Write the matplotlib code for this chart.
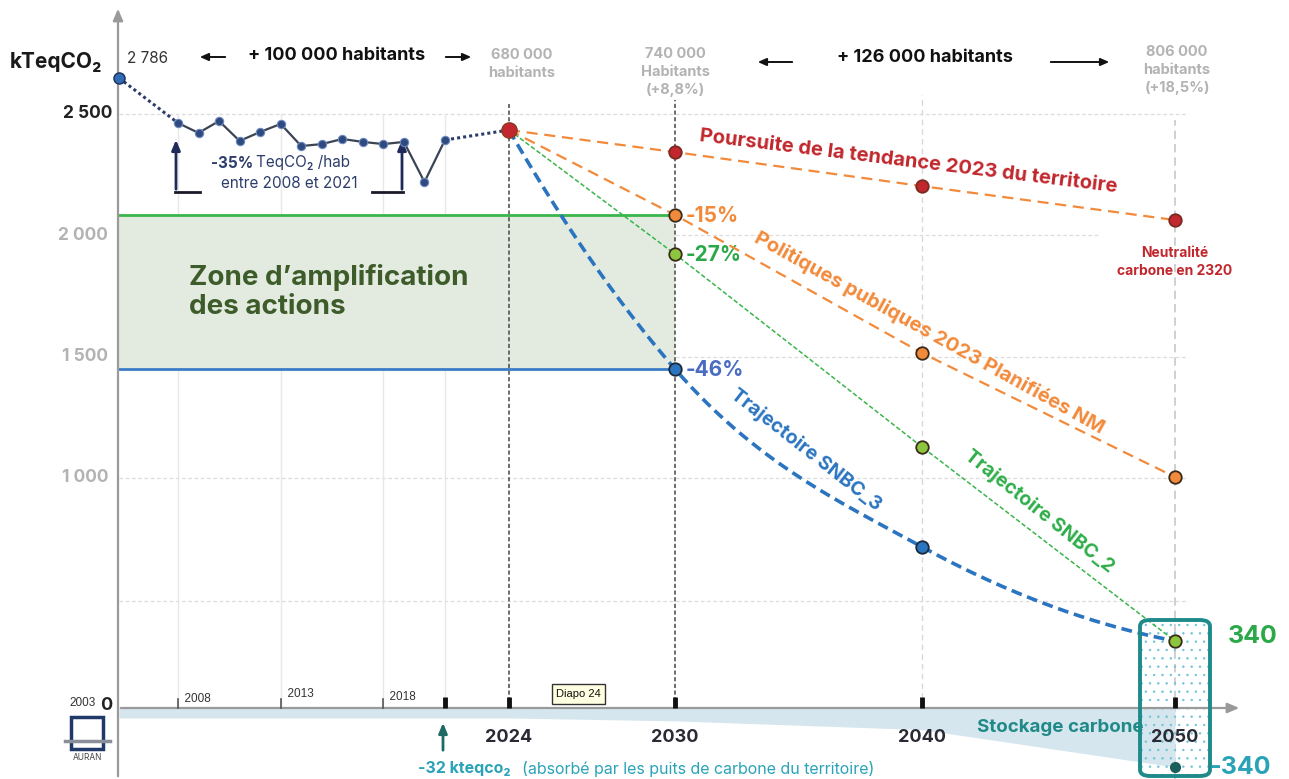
import numpy as np
import matplotlib
matplotlib.use("Agg")
import matplotlib.pyplot as plt
from matplotlib.patches import FancyBboxPatch, Rectangle

# ---------------- data ----------------
hist_years = [2003, 2008, 2009, 2010, 2011, 2012, 2013, 2014, 2015, 2016, 2017, 2018, 2019, 2020, 2021]
hist_values = [2786, 2463, 2422, 2471, 2389, 2426, 2459, 2368, 2376, 2397, 2385, 2376, 2385, 2220, 2393]
base_year = 2024
base_value = 2434

proj_years = [2024, 2030, 2040, 2050]
tendance = [2434, 2343, 2203, 2063]
politiques = [2434, 2084, 1515, 1004]
snbc2 = [2434, 1923, 1128, 340]
snbc3 = [2434, 1449, 721, 340]

sink_years = [2003, 2024, 2030, 2040, 2050]
sink_values = [-32, -32, -50, -105, -340]

pct_labels = ["-15%", "-27%", "-46%"]
y_ticks = [1000, 1500, 2000, 2500]
y_tick_labels = ["1 000", "1 500", "2 000", "2 500"]
hist_tick_years = [2008, 2013, 2018]
proj_tick_years = [2024, 2030, 2040, 2050]
grid_values = [500, 1000, 1500, 2000, 2500]

# ---------------- figure / scales ----------------
W, H = 1289, 779
plt.rcParams["hatch.linewidth"] = 0.5
fig = plt.figure(figsize=(W / 100, H / 100), dpi=100)
ax = fig.add_axes([0, 0, 1, 1])
ax.axis("off")

# piecewise axis layout (year -> pixel, value -> pixel)
XK_Y = np.array([1980, 2003, 2008, 2021, 2024, 2030, 2040, 2050, 2080], float)
XK_P = np.array([119 - 23 * 11.8, 119, 178, 445, 509, 675, 922, 1175, 1175 + 30 * 25.3])
YK_V = np.array([-1500, -340, -32, 0, 340, 1000, 2500, 2786, 5000], float)
YK_P = np.array([951, 767, 718, 708, 641, 478, 114, 78, -201], float)
YK_U = H - YK_P

fx = lambda v: np.interp(v, XK_Y, XK_P)
ix = lambda p: np.interp(p, XK_P, XK_Y)
fy = lambda v: np.interp(v, YK_V, YK_U)
iy = lambda u: np.interp(u, YK_U, YK_V)
ax.set_xscale("function", functions=(fx, ix))
ax.set_yscale("function", functions=(fy, iy))
ax.set_xlim(float(ix(0)), float(ix(W)))
ax.set_ylim(float(iy(0)), float(iy(H)))


def P(x, y):
    return (x / W, 1 - y / H)


def ftext(x, y, s, **kw):
    return fig.text(x / W, 1 - y / H, s, **kw)


FONT = ["Inter", "Lato", "DejaVu Sans"]
RED = "#c1272d"
ORANGE = "#f28a3b"
GREEN = "#39b54a"
LGREEN = "#8cc63f"
BLUE = "#2b74c0"
NAVY = "#2d3d6b"
GRAY = "#b3b3b3"
TEAL = "#1e8a8a"
TEAL2 = "#2aa3b8"

# ---------------- grid ----------------
for gv in grid_values:
    x_end = 2047 if gv == 2000 else 2050.5
    ax.plot([2003, x_end], [gv, gv], color="#dcdcdc", lw=0.9, ls=(0, (3, 2)), zorder=1)
for yr in [2008, 2013, 2018, 2021]:
    ax.plot([yr, yr], [0, 2500], color="#e8e8e8", lw=1, zorder=1)
ax.plot([2040, 2040], [0, float(iy(H - 95))], color="#d8d8d8", lw=1, ls=(0, (4, 3)), zorder=1)
ax.plot([2050, 2050], [float(iy(H - 779)), float(iy(H - 120))], color="#c8c8c8", lw=1.2, ls=(0, (5, 3)), zorder=1)
ax.plot([2024, 2024], [0, float(iy(H - 104))], color="#555555", lw=1.2, ls=(0, (2.5, 1.5)), zorder=2)
ax.plot([2030, 2030], [0, float(iy(H - 100))], color="#555555", lw=1.2, ls=(0, (2.5, 1.5)), zorder=2)

# ---------------- zone d'amplification ----------------
ax.fill_between([2003, 2030], [snbc3[1], snbc3[1]], [politiques[1], politiques[1]],
                color="#e3ebe0", zorder=1.5, lw=0)
ax.plot([2003, 2030], [politiques[1], politiques[1]], color=GREEN, lw=2, zorder=3)
ax.plot([2003, 2030], [snbc3[1], snbc3[1]], color="#3a7cc8", lw=2, zorder=3)
ftext(189, 292, "Zone d\u2019amplification\ndes actions", fontsize=20, fontweight="bold",
      color="#3d5c2a", family=FONT, ha="left", va="center", linespacing=1.18)

# ---------------- carbon sink band ----------------
ax.fill_between(sink_years, [0] * len(sink_years), sink_values, color="#d6e6ee", lw=0, zorder=1)

# ---------------- axes lines ----------------
ax.annotate("", xy=P(118, 6), xytext=P(118, 779), xycoords="figure fraction",
            arrowprops=dict(arrowstyle="-|>,head_length=0.7,head_width=0.3", color="#9a9a9a", lw=1.6))
ax.annotate("", xy=P(1242, 708), xytext=P(118, 708), xycoords="figure fraction",
            arrowprops=dict(arrowstyle="-|>,head_length=0.7,head_width=0.3", color="#9a9a9a", lw=1.6))

for yr in hist_tick_years:
    ax.plot([yr, yr], [0, float(iy(H - 699))], color="#555555", lw=1.2, zorder=4)
for yr in [2021] + proj_tick_years:
    ax.plot([yr, yr], [0, float(iy(H - 697))], color="#111111", lw=3.5, zorder=4, solid_capstyle="butt")

for yr, lab, dy in zip(hist_tick_years, ["2008", "2013", "2018"], [699, 694, 697]):
    ax.text(yr, float(iy(H - dy)), "  " + lab, fontsize=8.5, family=["Liberation Sans"],
            color="#333333", ha="left", va="center")
for yr in proj_tick_years:
    ax.text(yr, float(iy(H - 738)), str(yr), fontsize=13, fontweight="bold", family=FONT,
            color="#2a2a35", ha="center", va="center", zorder=6)

ftext(96, 703, "2003", fontsize=8.5, family=["Liberation Sans"], color="#333333", ha="right", va="center")
ftext(106, 705, "0", fontsize=13, fontweight="bold", family=FONT, color="#222222", ha="center", va="center")

for v, lab in zip(y_ticks, y_tick_labels):
    col = "#222222" if v == 2500 else GRAY
    xr = 112 if v == 2500 else 108
    ftext(xr, float(H - fy(v)), lab, fontsize=12.5, fontweight="bold", family=FONT,
          color=col, ha="right", va="center")

ftext(10, 62, "kTeqCO\u2082", fontsize=15, fontweight="bold", family=FONT, color="#1a1a1a",
      ha="left", va="center")

# ---------------- historical series ----------------
ax.plot(hist_years[:2], hist_values[:2], color=NAVY, lw=2.2, ls=(0, (1, 1)), zorder=4)
ax.plot([hist_years[-1], base_year], [hist_values[-1], base_value], color=NAVY, lw=2.2,
        ls=(0, (1, 1)), zorder=4)
ax.plot(hist_years[1:], hist_values[1:], color="#3b4453", lw=1.6, zorder=4)
ax.plot(hist_years[1:], hist_values[1:], ls="none", marker="o", ms=6, mfc="#2f4a7e",
        mec="#6d8ac0", mew=0.8, zorder=5)
ax.plot(hist_years[0], hist_values[0], ls="none", marker="o", ms=8, mfc="#2e6db4",
        mec="#1d2f55", mew=1, zorder=5)
ax.annotate("2 786", xy=(hist_years[0], hist_values[0]), xytext=(6, 14), textcoords="offset points",
            fontsize=11, family=FONT, color="#333333", ha="left", va="center")

# ---------------- projections ----------------
ax.plot(proj_years, tendance, color=ORANGE, lw=1.6, ls=(0, (5, 3)), zorder=4)
ax.plot(proj_years, politiques, color=ORANGE, lw=1.6, ls=(0, (5, 3)), zorder=4)
ax.plot(proj_years, snbc2, color=GREEN, lw=1.1, ls=(0, (3, 1.5)), zorder=4)

# smooth SNBC_3 curve (Hermite through the data points, in display units)
px = fx(np.array(proj_years, float))
py = fy(np.array(snbc3, float))
h = np.diff(px)
s = np.diff(py) / h
m = np.zeros(len(px))
for i in range(1, len(px) - 1):
    m[i] = (s[i - 1] * h[i] + s[i] * h[i - 1]) / (h[i - 1] + h[i])
m[0] = 2 * s[0] - m[1]
m[-1] = 2 * s[-1] - m[-2]
cx, cy = [], []
for i in range(len(px) - 1):
    u = np.linspace(0, 1, 60)
    h00 = 2 * u**3 - 3 * u**2 + 1
    h10 = u**3 - 2 * u**2 + u
    h01 = -2 * u**3 + 3 * u**2
    h11 = u**3 - u**2
    cx.append(px[i] + u * h[i])
    cy.append(h00 * py[i] + h10 * h[i] * m[i] + h01 * py[i + 1] + h11 * h[i] * m[i + 1])
cx = np.concatenate(cx)
cy = np.concatenate(cy)
ax.plot(ix(cx), iy(cy), color=BLUE, lw=2.6, ls=(0, (3, 1.6)), zorder=4)

mk = dict(ls="none", marker="o", ms=9, mew=1.3, mec="#3a2a1a", zorder=6)
ax.plot(proj_years[1:], tendance[1:], mfc=RED, **{**mk, "mec": "#7a2a20"})
ax.plot(proj_years[1:], politiques[1:], mfc=ORANGE, **mk)
ax.plot(proj_years[1:3], snbc2[1:3], mfc=LGREEN, **mk)
ax.plot(proj_years[1:3], snbc3[1:3], mfc=BLUE, **{**mk, "mec": "#1a2a3a"})
ax.plot(proj_years[-1], snbc2[-1], mfc=LGREEN, **{**mk, "zorder": 8})
ax.plot(base_year, base_value, ls="none", marker="o", ms=11, mfc=RED, mec="#8a3a20", mew=1, zorder=7)

# percentage labels at 2030
for val, lab, col in zip([politiques[1], snbc2[1], snbc3[1]], pct_labels, [ORANGE, "#2aa84a", "#4a6cc1"]):
    ax.annotate(lab, xy=(2030, val), xytext=(8, -1), textcoords="offset points", fontsize=15,
                fontweight="bold", family=FONT, color=col, ha="left", va="center")

# series labels
ftext(908, 162, "Poursuite de la tendance 2023 du territoire", fontsize=14.5, fontweight="bold",
      family=FONT, color=RED, rotation=-7, rotation_mode="anchor", ha="center", va="center")
ftext(929, 333, "Politiques publiques 2023 Planifi\u00e9es NM", fontsize=14.5, fontweight="bold",
      family=FONT, color=ORANGE, rotation=-29, rotation_mode="anchor", ha="center", va="center")
ftext(806, 450, "Trajectoire SNBC_3", fontsize=14, fontweight="bold", family=FONT, color=BLUE,
      rotation=-38, rotation_mode="anchor", ha="center", va="center")
ftext(1039, 511, "Trajectoire SNBC_2", fontsize=14, fontweight="bold", family=FONT, color="#2fae4a",
      rotation=-38.5, rotation_mode="anchor", ha="center", va="center")
ftext(1175, 262, "Neutralit\u00e9\ncarbone en 2320", fontsize=10, fontweight="bold", family=FONT,
      color=RED, ha="center", va="center", linespacing=1.3)

# ---------------- population annotations ----------------
pop_kw = dict(fontsize=10.5, fontweight="bold", family=FONT, color=GRAY, ha="center", va="center",
              linespacing=1.35)
ftext(522, 64, "680 000\nhabitants", **pop_kw)
ftext(675, 72, "740 000\nHabitants\n(+8,8%)", **pop_kw)
ftext(1177, 70, "806 000\nhabitants\n(+18,5%)", **pop_kw)
ftext(337, 56, "+ 100 000 habitants", fontsize=13, fontweight="bold", family=FONT,
      color="#111111", ha="center", va="center")
ftext(925, 58, "+ 126 000 habitants", fontsize=13, fontweight="bold", family=FONT,
      color="#111111", ha="center", va="center")
arr = dict(arrowstyle="-|>,head_length=0.5,head_width=0.22", color="#111111", lw=1.4)
for (x0, x1, yy) in [(228, 197, 57), (443, 474, 57), (795, 755, 62), (1048, 1112, 62)]:
    ax.annotate("", xy=P(x1, yy), xytext=P(x0, yy), xycoords="figure fraction", arrowprops=arr)

# -35% annotation
narr = dict(arrowstyle="-|>,head_length=0.6,head_width=0.25", color="#1e2a5a", lw=2)
ax.annotate("", xy=P(176, 137), xytext=P(176, 192), xycoords="figure fraction", arrowprops=narr)
ax.annotate("", xy=P(402, 137), xytext=P(402, 192), xycoords="figure fraction", arrowprops=narr)
ax.plot(*zip(P(175, 192), P(200, 192)), transform=fig.transFigure, color="#1a1a2a", lw=2)
ax.plot(*zip(P(372, 192), P(403, 192)), transform=fig.transFigure, color="#1a1a2a", lw=2)
ftext(253, 163, "-35%", fontsize=11, fontweight="bold", family=FONT, color="#2d3d6b", ha="right", va="center")
ftext(256, 163, "TeqCO\u2082 /hab", fontsize=11, family=FONT, color="#2d3d6b", ha="left", va="center")
ftext(289, 183, "entre 2008 et 2021", fontsize=11, family=FONT, color="#2d3d6b", ha="center", va="center")

# ---------------- 2050 box ----------------
bx0, by0, bx1, by1 = 1140, 620, 1210, 776
hatch_box = FancyBboxPatch(P(bx0, by1), (bx1 - bx0) / W, (by1 - by0) / H,
                           boxstyle="round,pad=0,rounding_size=0.008", transform=fig.transFigure,
                           facecolor="none", edgecolor="#6fc3d6", hatch="..", lw=0, zorder=2)
ax.add_patch(hatch_box)
border = FancyBboxPatch(P(bx0, by1), (bx1 - bx0) / W, (by1 - by0) / H,
                        boxstyle="round,pad=0,rounding_size=0.008", transform=fig.transFigure,
                        facecolor="none", edgecolor=TEAL, lw=2.8, zorder=9)
ax.add_patch(border)
ax.plot(2050, sink_values[-1], ls="none", marker="o", ms=7, mfc="#1a5f5a", mec="#1a5f5a", zorder=9)
ax.annotate(str(snbc2[-1]), xy=(2050, snbc2[-1]), xytext=(38, 3), textcoords="offset points",
            fontsize=18, fontweight="bold", family=FONT, color="#2aa84a", ha="left", va="center")
ax.annotate(str(sink_values[-1]), xy=(2050, sink_values[-1]), xytext=(25, 0), textcoords="offset points",
            fontsize=18, fontweight="bold", family=FONT, color=TEAL2, ha="left", va="center")
ftext(1060, 727, "Stockage carbone", fontsize=13.5, fontweight="bold", family=FONT, color="#1f8a87",
      ha="center", va="center", zorder=8)

# -32 annotation
ax.annotate("", xy=P(443, 720), xytext=P(443, 753), xycoords="figure fraction",
            arrowprops=dict(arrowstyle="-|>,head_length=0.6,head_width=0.25", color="#1e6b64", lw=2))
ftext(418, 769, "-32 kteqco\u2082", fontsize=11.5, fontweight="bold", family=FONT, color=TEAL2,
      ha="left", va="center")
ftext(522, 769, "(absorb\u00e9 par les puits de carbone du territoire)", fontsize=11.5, family=FONT,
      color=TEAL2, ha="left", va="center")

# ---------------- decorations ----------------
tip = FancyBboxPatch(P(552, 704), 53 / W, 20 / H, boxstyle="square,pad=0", transform=fig.transFigure,
                     facecolor="#ffffe1", edgecolor="#333333", lw=1, zorder=10)
ax.add_patch(tip)
ftext(578, 694, "Diapo 24", fontsize=8, family=["Liberation Sans"], color="#111111", ha="center",
      va="center", zorder=11)

logo = Rectangle(P(71, 749), 32 / W, 32 / H, transform=fig.transFigure, facecolor="none",
                 edgecolor="#1f3a68", lw=2.5, zorder=5)
ax.add_patch(logo)
ax.plot(*zip(P(65, 741), P(110, 741)), transform=fig.transFigure, color="#8a8f99", lw=2.5, zorder=6)
ftext(87, 758, "AURAN", fontsize=6, family=FONT, color="#444444", ha="center", va="center")

fig.savefig("out.png", dpi=100)
